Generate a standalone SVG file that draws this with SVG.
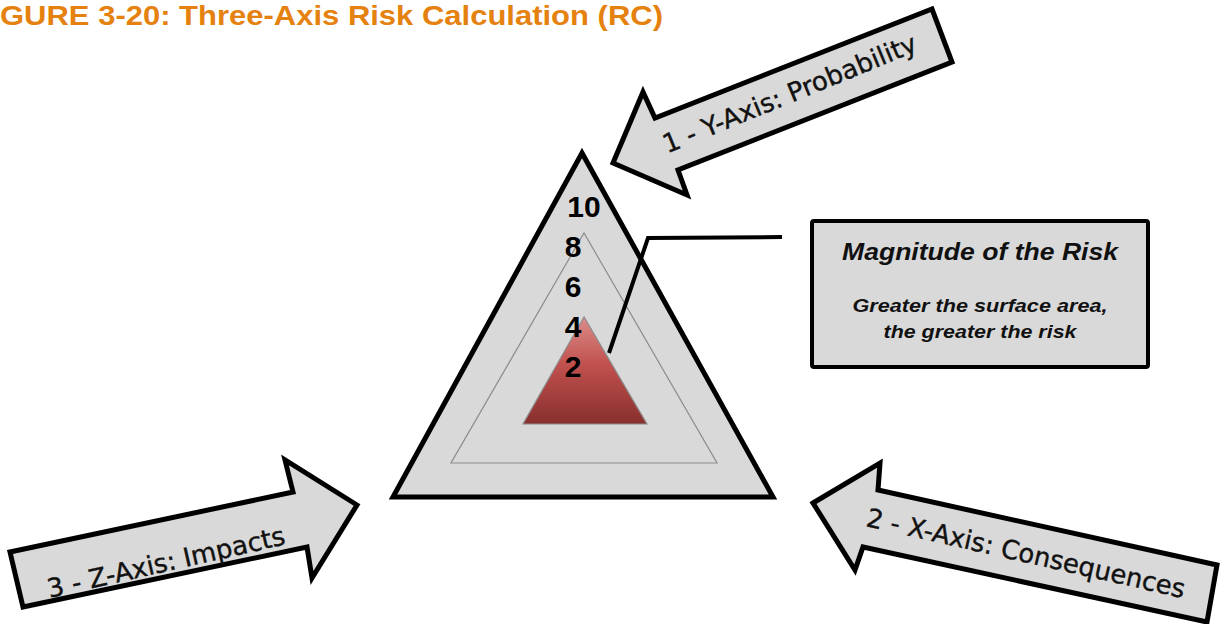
<svg xmlns="http://www.w3.org/2000/svg" width="1220" height="624" viewBox="0 0 1220 624">
<defs>
<linearGradient id="redGrad" x1="0" y1="0" x2="0" y2="1">
<stop offset="0" stop-color="#dc8d8a"/>
<stop offset="0.45" stop-color="#c0504d"/>
<stop offset="1" stop-color="#88302e"/>
</linearGradient>
<style>
.title{font-family:"Liberation Sans",Arial,sans-serif;font-weight:bold;font-size:28px;fill:#e5810f}
.arrow{fill:#d9d9d9;stroke:#000;stroke-width:5;stroke-linejoin:miter}
.alabel{font-family:"DejaVu Sans","Liberation Sans",sans-serif;font-size:26px;fill:#111;stroke:#111;stroke-width:0.4;text-anchor:middle}
.num{font-family:"Liberation Sans",Arial,sans-serif;font-weight:bold;font-size:30px;fill:#000;text-anchor:middle}
.boxt{font-family:"Liberation Sans",Arial,sans-serif;font-weight:bold;font-style:italic;fill:#111;text-anchor:middle}
</style>
</defs>
<rect width="1220" height="624" fill="#ffffff"/>
<text class="title" x="0" y="25" textLength="663" lengthAdjust="spacingAndGlyphs">GURE 3-20: Three-Axis Risk Calculation (RC)</text>

<g id="triangle-outer">
<polygon points="582,153 393,497 773,497" fill="#d9d9d9" stroke="#000" stroke-width="5" stroke-linejoin="miter"/>
</g>
<g id="triangle-middle">
<polygon points="584,233 451,463 717,463" fill="#d9d9d9" stroke="#8c8c8c" stroke-width="1.2"/>
</g>
<g id="triangle-risk">
<polygon points="584,317 523,424 647,424" fill="url(#redGrad)" stroke="#8c8c8c" stroke-width="1.2"/>
</g>
<g id="scale">
<text class="num" x="584" y="217">10</text>
<text class="num" x="573" y="257">8</text>
<text class="num" x="573" y="297">6</text>
<text class="num" x="573" y="337">4</text>
<text class="num" x="573" y="377">2</text>
</g>

<g id="connectors">
<polyline points="609,353 648,238 782,237" fill="none" stroke="#000" stroke-width="4" stroke-linejoin="miter"/>
</g>

<g id="magnitude-box">
<rect x="812" y="221" width="336" height="146" rx="2" fill="#d9d9d9" stroke="#000" stroke-width="4"/>
<text class="boxt" x="980" y="260" font-size="24" textLength="276" lengthAdjust="spacingAndGlyphs">Magnitude of the Risk</text>
<text class="boxt" x="980" y="312" font-size="18" textLength="255" lengthAdjust="spacingAndGlyphs">Greater the surface area,</text>
<text class="boxt" x="980" y="338" font-size="18" textLength="193" lengthAdjust="spacingAndGlyphs">the greater the risk</text>
</g>

<g id="arrow-y">
<polygon class="arrow" points="613,163 643,92 655,118 932,9 952,62 678,170 687,195"/>
<text class="alabel" transform="translate(793,102) rotate(-22.3)" textLength="272" lengthAdjust="spacingAndGlyphs">1 - Y-Axis: Probability</text>
</g>

<g id="arrow-z">
<polygon class="arrow" points="357,505 285,460 293,492 10,552 23,607 307,547 312,578"/>
<text class="alabel" transform="translate(168,571) rotate(-12.8)" textLength="243" lengthAdjust="spacingAndGlyphs">3 - Z-Axis: Impacts</text>
</g>

<g id="arrow-x">
<polygon class="arrow" points="813,503 880,463 878,490 1217,565 1207,622 863,547 855,570"/>
<text class="alabel" transform="translate(1024,562) rotate(12.8)" textLength="326" lengthAdjust="spacingAndGlyphs">2 - X-Axis: Consequences</text>
</g>
</svg>
